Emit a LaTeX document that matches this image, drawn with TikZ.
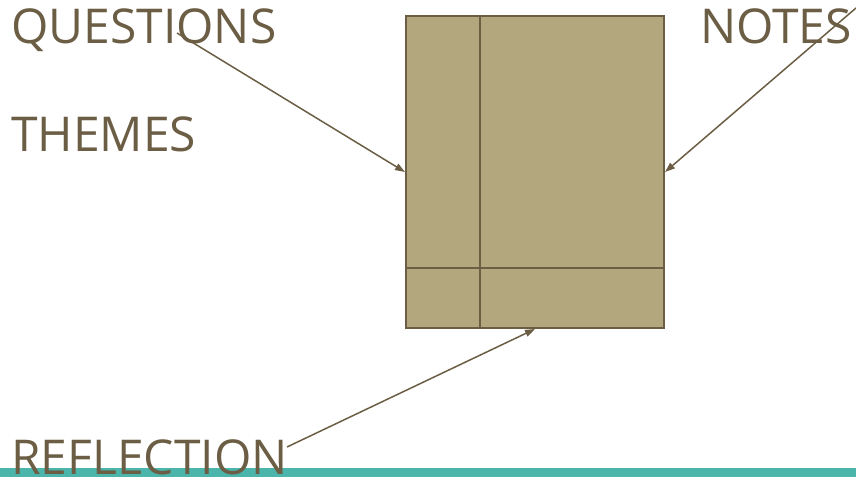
\documentclass[tikz,border=0pt]{standalone}
\usepackage{fontspec}
\setmainfont{Open Sans}
\usetikzlibrary{arrows.meta}
\definecolor{ink}{HTML}{6B5E45}
\definecolor{paper}{HTML}{B3A77D}
\definecolor{barteal}{HTML}{4BB5AC}

\begin{document}
\begin{tikzpicture}[x=1pt,y=-1pt,
	heading/.style={anchor=base west,text=ink,font=\fontsize{48}{48}\selectfont},
	pointer/.style={draw=ink,line width=1.5pt,-{Triangle[length=10pt,width=7pt]}}]
			\tikzstyle{every node}+=[inner sep=0pt]
			\useasboundingbox (0,0) rectangle (856,477);
			\fill [barteal] (0,468) rectangle (856,477);
			\node [draw=ink,fill=paper,line width=2pt,minimum width=258pt,minimum height=312pt,anchor=north west] (page) at (405,15) {};
			\draw [ink,line width=2pt] (480,15) -- (480,327);
			\draw [ink,line width=2pt] (405,268) -- (663,268);
			\node [heading] (questions) at (11,43) {QUESTIONS};
			\node [heading] (themes) at (11,151) {THEMES};
			\node [heading] (notes) at (700,43) {NOTES};
			\node [heading] (reflection) at (11,474) {REFLECTION};
			\coordinate (qstart) at (177,33);
			\coordinate (nstart) at (856,8);
			\coordinate (rstart) at (287,447);
			\draw [pointer] (qstart) -- (page.west);
			\draw [pointer] (nstart) -- (page.east);
			\draw [pointer] (rstart) -- (page.south);
\end{tikzpicture}
\end{document}
